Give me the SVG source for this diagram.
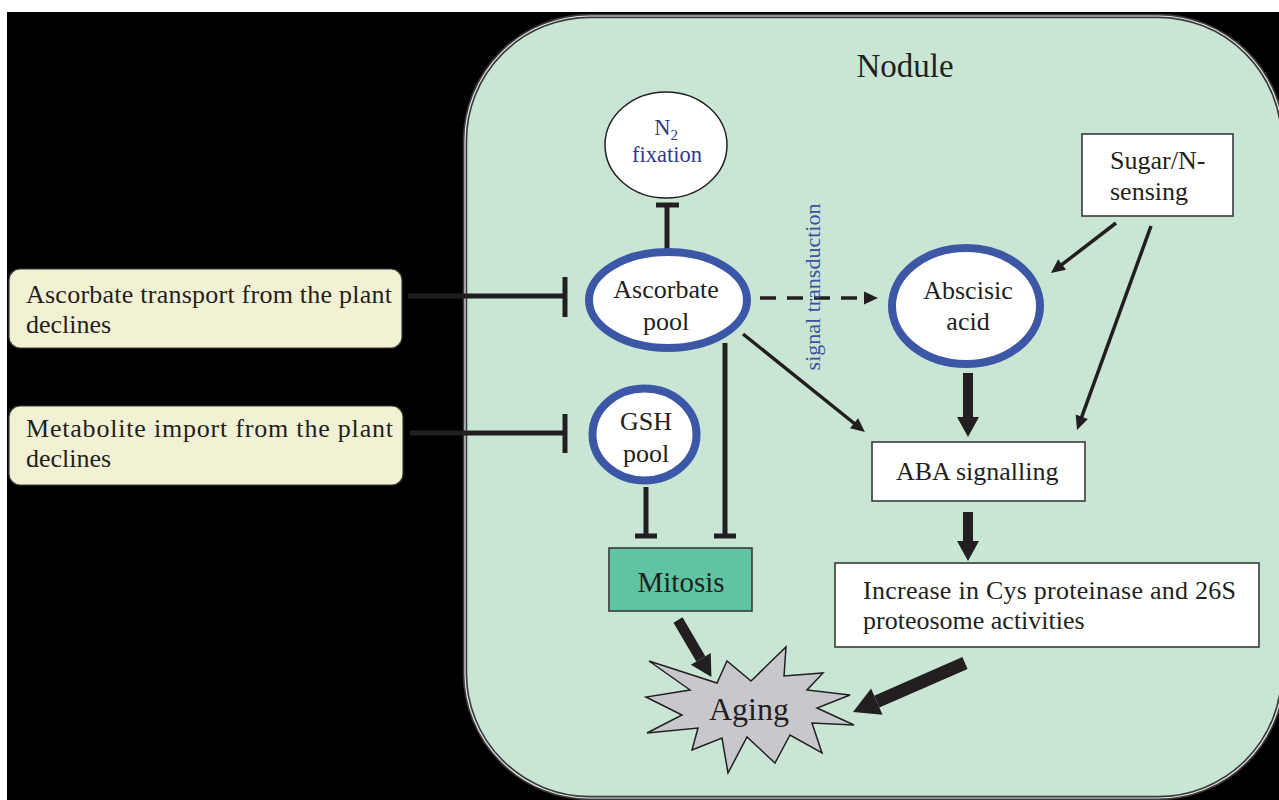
<svg xmlns="http://www.w3.org/2000/svg" width="1279" height="800" viewBox="0 0 1279 800">
<defs>
<style>
.t{font-family:"Liberation Serif","Times New Roman",serif;fill:#231f20;font-size:26px}
.blue{fill:#2e3a8c}
.sm{font-size:22.5px}
.big{font-size:33px}
.mit{font-size:29px}
.age{font-size:32px}
.box{fill:#ffffff;stroke:#3a3a3a;stroke-width:1.6}
.cream{fill:#f3f1d4;stroke:#3a3a3a;stroke-width:1.2}
.pool{fill:#ffffff;stroke:#3b57a6;stroke-width:8}
.inh{stroke:#231f20;stroke-width:5;fill:none}
.thin{stroke:#231f20;stroke-width:3.5;fill:none}
.thick{stroke:#231f20;fill:none}
</style>
<marker id="ah" markerUnits="userSpaceOnUse" markerWidth="20" markerHeight="20" refX="2" refY="0" orient="auto" overflow="visible">
<path d="M0,-6.5 L14,0 L0,6.5 z" fill="#231f20"/>
</marker>
<marker id="big" markerUnits="strokeWidth" markerWidth="3" markerHeight="3" refX="0" refY="0" orient="auto" overflow="visible">
<path d="M0,-1.1 L2,0 L0,1.1 z" fill="#231f20"/>
</marker>
</defs>
<rect x="0" y="0" width="1279" height="800" fill="#ffffff"/>
<rect x="7" y="12" width="1272" height="788" fill="#000000"/>

<g id="nodule">
<rect x="465" y="16" width="818" height="782" rx="125" ry="125" fill="#c9e6d5" stroke="#3a3a3a" stroke-width="4.5"/>
<rect x="465" y="16" width="818" height="782" rx="125" ry="125" fill="none" stroke="#e6e6e6" stroke-width="1.2"/>
<text class="t big" x="905" y="77" text-anchor="middle">Nodule</text>
</g>

<g id="connectors">
<line class="inh" x1="408" y1="296" x2="565" y2="296"/>
<line class="inh" x1="565" y1="277" x2="565" y2="317"/>
<line class="inh" x1="410" y1="433" x2="565" y2="433"/>
<line class="inh" x1="565" y1="414" x2="565" y2="453"/>
<line class="inh" x1="667" y1="250" x2="667" y2="205"/>
<line class="inh" x1="656" y1="205" x2="679" y2="205"/>
<line class="inh" x1="725" y1="343" x2="725" y2="536"/>
<line class="inh" x1="714" y1="536" x2="736" y2="536"/>
<line class="inh" x1="646" y1="487" x2="646" y2="536"/>
<line class="inh" x1="635" y1="536" x2="657" y2="536"/>
<line class="thin" x1="760" y1="298" x2="866" y2="298" stroke-dasharray="16 11" stroke-width="4" marker-end="url(#ah)"/>
<line class="thin" x1="743" y1="334" x2="855.6" y2="424.5" marker-end="url(#ah)"/>
<line class="thin" x1="1116" y1="223" x2="1060.5" y2="265.7" marker-end="url(#ah)"/>
<line class="thin" x1="1151" y1="226" x2="1081.1" y2="418.7" marker-end="url(#ah)"/>
<line class="thick" x1="968" y1="373" x2="968" y2="417" stroke-width="10" marker-end="url(#big)"/>
<line class="thick" x1="968" y1="512" x2="968" y2="541" stroke-width="10" marker-end="url(#big)"/>
<line class="thick" x1="678" y1="620" x2="700.8" y2="658.8" stroke-width="10.5" marker-end="url(#big)"/>
<line class="thick" x1="965" y1="663" x2="876.8" y2="701.6" stroke-width="13" marker-end="url(#big)"/>
<text x="820" y="287" transform="rotate(-90 820 287)" text-anchor="middle" font-family="Liberation Serif, serif" font-size="22" fill="#3c4fa0">signal transduction</text>
</g>

<g id="ascorbate-transport">
<rect class="cream" x="9" y="269" width="393" height="79" rx="11"/>
<text class="t" x="26" y="303" textLength="366" lengthAdjust="spacing">Ascorbate transport from the plant</text>
<text class="t" x="26" y="333">declines</text>
</g>

<g id="metabolite-import">
<rect class="cream" x="9" y="406" width="394" height="79" rx="11"/>
<text class="t" x="26" y="437" textLength="367" lengthAdjust="spacing">Metabolite import from the plant</text>
<text class="t" x="26" y="467">declines</text>
</g>

<g id="n2-fixation">
<ellipse cx="666" cy="145" rx="61" ry="53" fill="#ffffff" stroke="#231f20" stroke-width="1.5"/>
<text class="t blue sm" x="666" y="135" text-anchor="middle">N<tspan style="font-size:15px" dy="5">2</tspan></text>
<text class="t blue sm" x="667" y="162" text-anchor="middle">fixation</text>
</g>

<g id="ascorbate-pool">
<ellipse class="pool" cx="668" cy="300" rx="79" ry="48"/>
<text class="t" x="666" y="298" text-anchor="middle">Ascorbate</text>
<text class="t" x="666" y="330" text-anchor="middle">pool</text>
</g>

<g id="gsh-pool">
<ellipse class="pool" cx="644.5" cy="434.5" rx="52" ry="46"/>
<text class="t" x="646" y="430" text-anchor="middle">GSH</text>
<text class="t" x="646" y="462" text-anchor="middle">pool</text>
</g>

<g id="abscisic-acid">
<ellipse class="pool" cx="966" cy="306" rx="74" ry="58"/>
<text class="t" x="968" y="299" text-anchor="middle">Abscisic</text>
<text class="t" x="968" y="330" text-anchor="middle">acid</text>
</g>

<g id="sugar-sensing">
<rect class="box" x="1082" y="134" width="151" height="82"/>
<text class="t" x="1110" y="169">Sugar/N-</text>
<text class="t" x="1110" y="200">sensing</text>
</g>

<g id="aba-signalling">
<rect class="box" x="872" y="442" width="213" height="59"/>
<text class="t" x="896" y="480">ABA signalling</text>
</g>

<g id="proteinase">
<rect class="box" x="835" y="563" width="424" height="84"/>
<text class="t" x="863" y="599" textLength="373" lengthAdjust="spacing">Increase in Cys proteinase and 26S</text>
<text class="t" x="863" y="629">proteosome activities</text>
</g>

<g id="mitosis">
<rect x="609" y="548" width="143" height="63" fill="#5ec4a3" stroke="#3a3a3a" stroke-width="1.6"/>
<text class="t mit" x="681" y="592" text-anchor="middle">Mitosis</text>
</g>

<g id="aging">
<polygon points="649,661 717,683 727,661 751,681 786,647 784,676 823,673 807,690 850,695 817,708 854,725 812,723 822,753 790,735 775,763 747,737 728,773 722,738 692,750 698,728 647,733 682,715 646,697 690,690" fill="#c8c8cc" stroke="#231f20" stroke-width="1.5" stroke-linejoin="miter"/>
<text class="t age" x="749" y="720" text-anchor="middle">Aging</text>
</g>
</svg>
